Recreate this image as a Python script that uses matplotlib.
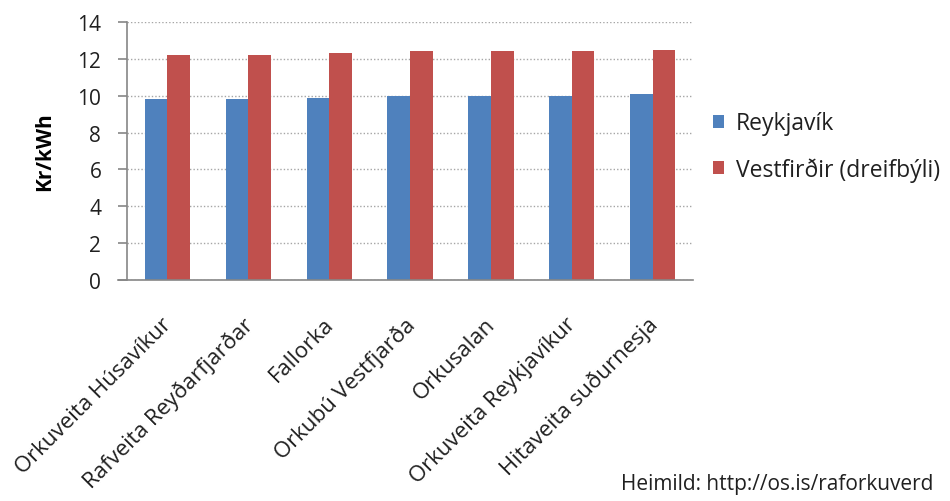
import matplotlib
matplotlib.use("Agg")
import matplotlib.pyplot as plt
import matplotlib.transforms as mtransforms
import numpy as np

plt.rcParams["font.family"] = ["Open Sans", "DejaVu Sans"]

COMPANIES = [
    "Orkuveita Húsavíkur",
    "Rafveita Reyðarfjarðar",
    "Fallorka",
    "Orkubú Vestfjarða",
    "Orkusalan",
    "Orkuveita Reykjavíkur",
    "Hitaveita suðurnesja",
]
REYKJAVIK = [9.8, 9.8, 9.9, 10.0, 10.0, 10.0, 10.1]
VESTFIRDIR = [12.2, 12.2, 12.3, 12.4, 12.4, 12.4, 12.5]

BLUE = "#4f81bd"
RED = "#c0504d"
TEXT = "#202020"
AXIS = "#868686"

fig = plt.figure(figsize=(9.5, 5.02), dpi=100)
ax = fig.add_axes([0.1337, 0.4402, 0.5958, 0.514])

x = np.arange(len(COMPANIES))
w = 0.28
ax.bar(x - w / 2, REYKJAVIK, w, color=BLUE, label="Reykjavík", zorder=2)
ax.bar(x + w / 2, VESTFIRDIR, w, color=RED, label="Vestfirðir (dreifbýli)", zorder=2)

ax.set_xlim(-0.5, len(COMPANIES) - 0.5)
ax.set_ylim(0, 14)
ax.set_yticks(range(0, 15, 2))
ax.tick_params(axis="y", labelsize=15, colors=AXIS, labelcolor=TEXT,
               length=6.5, width=1.2, pad=12)
ax.yaxis.grid(True, linestyle=(0, (1, 1.5)), color="#a6a6a6", linewidth=1.0, zorder=0)

ax.set_xticks(x)
ax.set_xticklabels(COMPANIES, rotation=45, ha="right", va="top",
                   rotation_mode="anchor", fontsize=16, color=TEXT)
ax.tick_params(axis="x", length=0, pad=24)
# nudge rotated labels so their ends sit just right of the group centre
shift = mtransforms.ScaledTranslation(-6 / 100, 0, fig.dpi_scale_trans)
for lab in ax.get_xticklabels():
    lab.set_transform(lab.get_transform() + shift)

for side in ("top", "right"):
    ax.spines[side].set_visible(False)
for side in ("left", "bottom"):
    ax.spines[side].set_color(AXIS)
    ax.spines[side].set_linewidth(1.2)
ax.spines["bottom"].set_bounds(-0.61, len(COMPANIES) - 0.5)

ax.set_ylabel("Kr/kWh", fontsize=15, fontweight="bold", color="black", labelpad=16)

fig.legend(loc="upper left", bbox_to_anchor=(0.7284, 0.817), frameon=False,
           fontsize=16.5, handlelength=0.5, handleheight=0.5, labelspacing=0.95,
           handletextpad=0.5, labelcolor=TEXT)

fig.text(933 / 950, 1 - 490 / 502, "Heimild: http://os.is/raforkuverd",
         ha="right", va="baseline", fontsize=15, color=TEXT)

fig.savefig("out.png", dpi=100)
